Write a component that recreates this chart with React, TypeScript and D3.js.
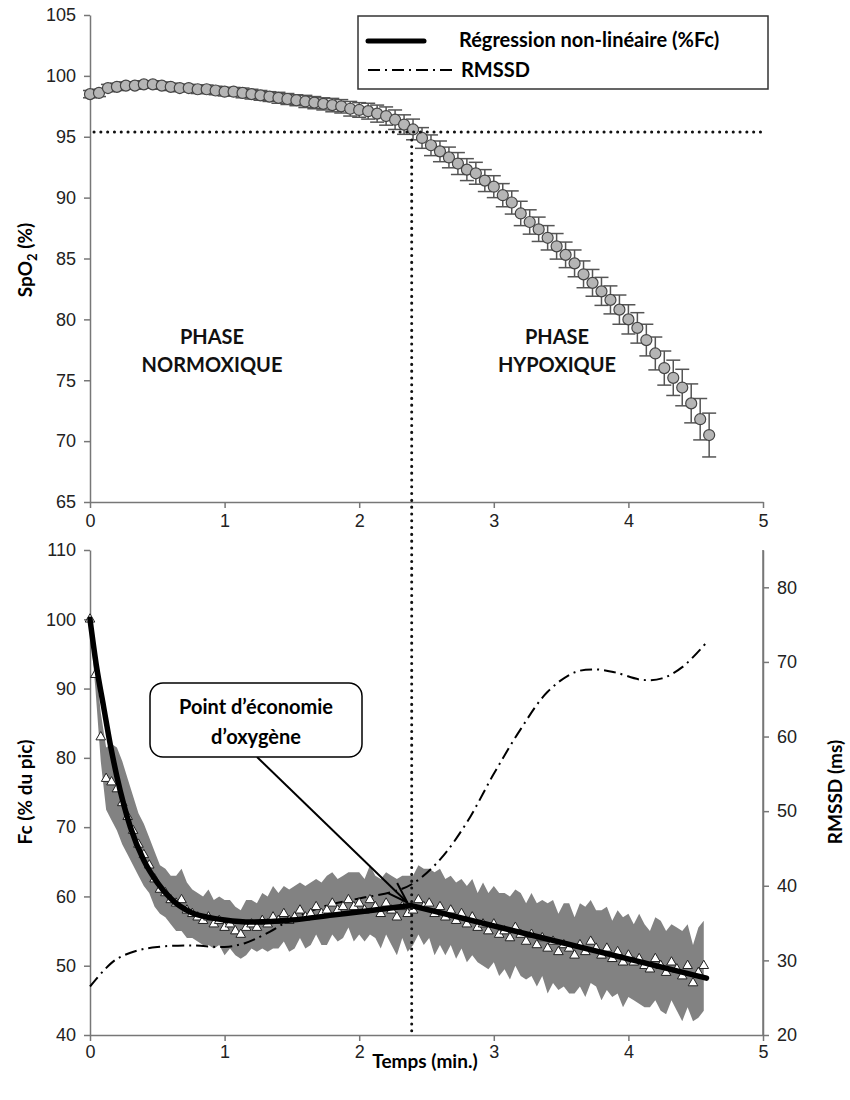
import React, { useEffect, useRef } from 'react';
import * as d3 from 'd3';

// SpO2 (%) mean and SD, one sample every 4 s
const spo2Step = 4 / 60;
const spo2Mean = [
  98.5, 98.6, 99.0, 99.1, 99.2, 99.2, 99.3, 99.3, 99.2, 99.1,
  99.0, 99.0, 98.9, 98.9, 98.8, 98.7, 98.7, 98.6, 98.5, 98.4,
  98.3, 98.2, 98.1, 98.0, 97.9, 97.8, 97.7, 97.6, 97.5, 97.3,
  97.2, 97.1, 96.9, 96.7, 96.4, 96.0, 95.6, 94.9, 94.3, 93.8,
  93.3, 92.8, 92.3, 92.0, 91.4, 90.9, 90.2, 89.6, 88.7, 88.0,
  87.4, 86.7, 86.0, 85.3, 84.6, 83.7, 83.0, 82.3, 81.6, 80.8,
  80.0, 79.3, 78.3, 77.2, 76.0, 75.2, 74.4, 73.1, 71.8, 70.5,
];
const spo2Sd = [
  0.3, 0.3, 0.3, 0.3, 0.3, 0.3, 0.3, 0.3, 0.3, 0.3,
  0.3, 0.3, 0.35, 0.35, 0.35, 0.35, 0.35, 0.4, 0.4, 0.4,
  0.4, 0.45, 0.45, 0.45, 0.5, 0.5, 0.5, 0.55, 0.55, 0.6,
  0.6, 0.65, 0.7, 0.75, 0.8, 0.8, 0.85, 0.85, 0.85, 0.85,
  0.85, 0.9, 0.9, 0.9, 0.9, 0.9, 0.95, 0.95, 1.0, 1.0,
  1.0, 1.0, 1.05, 1.05, 1.1, 1.1, 1.1, 1.15, 1.15, 1.2,
  1.2, 1.25, 1.3, 1.35, 1.4, 1.45, 1.5, 1.6, 1.7, 1.8,
];

// Fc (% du pic) mean and SD
const fcStep = 0.04;
const fcMean = [
  100, 92, 83, 77, 76.5, 75.5, 73.5, 71.5, 69.5, 67.5,
  66, 64.5, 62.5, 61, 60.5, 59.5, 59, 59.5, 58, 57.5,
  57, 56.5, 57, 56, 56.5, 55.5, 56, 55, 54.5, 55.5,
  56, 55.5, 56.5, 56, 57, 56.5, 57.5, 56.5, 57, 58,
  57, 57.5, 58.5, 57.5, 58, 59, 58, 58.5, 59.5, 58.5,
  59, 58, 59.5, 58.5, 57.5, 59, 58, 57, 58.5, 57.5,
  58, 59.5, 58.5, 59, 57.5, 58.5, 57, 58, 56.5, 57.5,
  56, 57, 55.5, 56, 55, 56, 54.5, 55, 54, 55.5,
  54.5, 53.5, 54.5, 53, 54, 52.5, 53.5, 52, 53, 52.5,
  51.5, 53, 52, 53.5, 52.5, 51.5, 52.5, 51, 52, 50.5,
  51.5, 50.5, 51, 50, 49.5, 51, 50, 49, 50.5, 49.5,
  48.5, 50, 47.5, 49, 50,
];
const fcSd = [
  1, 2, 3.5, 4.5, 5.5, 6, 6, 5.5, 5, 4.5,
  4.5, 4, 4, 3.5, 3.5, 3.5, 4, 4.5, 4, 3.5,
  3.5, 3.5, 4, 3.5, 3.5, 4, 3.5, 3.5, 3.5, 4,
  3.5, 3.5, 4, 4, 4.5, 4, 4, 4.5, 4.5, 4,
  4.5, 4.5, 4, 4.5, 5, 4.5, 4.5, 4.5, 4, 5,
  4.5, 4.5, 5, 4.5, 5, 4.5, 5, 5.5, 4.5, 5.5,
  5, 5, 5.5, 5, 6, 5.5, 5.5, 5, 5.5, 5,
  5.5, 5.5, 5, 6, 5.5, 5.5, 6, 5.5, 6, 5.5,
  6, 5.5, 6, 6, 5.5, 6.5, 6, 5.5, 6, 6.5,
  5.5, 6, 6.5, 6, 5.5, 6.5, 6, 5.5, 6, 6.5,
  6, 5.5, 6.5, 6, 5.5, 6, 6.5, 6, 5.5, 6,
  6.5, 6, 5.5, 6.5, 6.5,
];

// non-linear regression of %Fc, before and after the break point
const regTimeA = [0, 0.05, 0.1, 0.15, 0.2, 0.3, 0.4, 0.5, 0.6, 0.75, 0.9, 1.0, 1.2, 1.5, 1.8, 2.1, 2.38];
const regValueA = [100, 93, 87.5, 82, 77.3, 70, 65.2, 62, 59.7, 57.7, 56.9, 56.6, 56.3, 56.6, 57.3, 58.0, 58.7];
const regTimeB = [2.38, 4.58];
const regValueB = [58.7, 48.2];

// RMSSD (ms)
const rmssdTime = [0, 0.1, 0.2, 0.35, 0.5, 0.75, 1.0, 1.15, 1.3, 1.5, 1.75, 2.0, 2.25, 2.4, 2.6, 2.8, 3.0, 3.2, 3.4, 3.6, 3.75, 3.9, 4.1, 4.25, 4.4, 4.58];
const rmssdValue = [26.5, 28.6, 30.2, 31.3, 31.8, 32.0, 31.8, 32.3, 33.5, 35.5, 37.3, 38.3, 39.2, 40.3, 43.5, 48.5, 55.0, 61.0, 66.0, 68.6, 69.0, 68.6, 67.6, 67.8, 69.3, 72.6];

const timeTicks = [0, 1, 2, 3, 4, 5];
const spo2Ticks = [65, 70, 75, 80, 85, 90, 95, 100, 105];
const fcTicks = [40, 50, 60, 70, 80, 90, 100, 110];
const rmssdTicks = [20, 30, 40, 50, 60, 70, 80];

const breakTime = 2.39;
const breakSpo2 = 95.4;
const breakFc = 58.7;

const TITLE_FONT = 'Lato, "Open Sans", sans-serif';
const TICK_FONT = '"Liberation Sans", Arial, sans-serif';

export default function App() {
  const svgRef = useRef<SVGSVGElement>(null);

  useEffect(() => {
    if (!svgRef.current) return;
    const svg = d3.select(svgRef.current);
    svg.selectAll('*').remove();

    const x = d3.scaleLinear().domain([0, 5]).range([90, 763]);
    const ySp = d3.scaleLinear().domain([65, 105]).range([502, 15]);
    const yFc = d3.scaleLinear().domain([40, 110]).range([1035, 550]);
    const yRm = d3.scaleLinear().domain([20, 85]).range([1035, 550]);

    const styleAxis = (g: any) => {
      g.select('.domain').attr('stroke', '#777').attr('stroke-width', 1.5);
      g.selectAll('.tick line').attr('stroke', '#777').attr('stroke-width', 1.5);
      g.selectAll('.tick text')
        .attr('fill', '#222')
        .style('font-family', TICK_FONT)
        .style('font-size', '18px');
    };

    // ---------- top panel : SpO2 ----------
    svg.append('g')
      .attr('transform', 'translate(0,502)')
      .call(d3.axisBottom(x).tickValues(timeTicks).tickFormat(d3.format('d')).tickSize(6).tickSizeOuter(0).tickPadding(6))
      .call(styleAxis);
    svg.append('g')
      .attr('transform', 'translate(90,0)')
      .call(d3.axisLeft(ySp).tickValues(spo2Ticks).tickSize(6).tickSizeOuter(0).tickPadding(8))
      .call(styleAxis);

    const spo2 = spo2Mean.map((v, i) => ({ t: i * spo2Step, v, sd: spo2Sd[i] }));
    const bars = svg.append('g').attr('stroke', '#555').attr('stroke-width', 1.5);
    spo2.forEach(d => {
      const cx = x(d.t);
      bars.append('line').attr('x1', cx).attr('x2', cx).attr('y1', ySp(d.v + d.sd)).attr('y2', ySp(d.v - d.sd));
      bars.append('line').attr('x1', cx - 7).attr('x2', cx + 7).attr('y1', ySp(d.v + d.sd)).attr('y2', ySp(d.v + d.sd));
      bars.append('line').attr('x1', cx - 7).attr('x2', cx + 7).attr('y1', ySp(d.v - d.sd)).attr('y2', ySp(d.v - d.sd));
    });
    svg.append('g').selectAll('circle').data(spo2).enter().append('circle')
      .attr('cx', d => x(d.t))
      .attr('cy', d => ySp(d.v))
      .attr('r', 5.5)
      .attr('fill', '#b5b5b5')
      .attr('stroke', '#444')
      .attr('stroke-width', 1.2);

    const phase = (cx: number, word: string) => {
      const t = svg.append('text')
        .attr('text-anchor', 'middle')
        .style('font-family', TITLE_FONT)
        .style('font-weight', 'bold')
        .style('font-size', '20px')
        .attr('fill', '#111');
      t.append('tspan').attr('x', cx).attr('y', 344).text('PHASE');
      t.append('tspan').attr('x', cx).attr('y', 372).text(word);
    };
    phase(212, 'NORMOXIQUE');
    phase(557, 'HYPOXIQUE');

    // legend
    const lg = svg.append('g');
    lg.append('rect').attr('x', 358).attr('y', 16).attr('width', 410).attr('height', 73)
      .attr('fill', 'white').attr('stroke', '#333').attr('stroke-width', 1.5);
    lg.append('line').attr('x1', 368).attr('x2', 424).attr('y1', 41).attr('y2', 41)
      .attr('stroke', '#000').attr('stroke-width', 5).attr('stroke-linecap', 'round');
    lg.append('line').attr('x1', 368).attr('x2', 457).attr('y1', 70).attr('y2', 70)
      .attr('stroke', '#000').attr('stroke-width', 1.8).attr('stroke-dasharray', '12,5,2,5');
    lg.append('text').attr('x', 459).attr('y', 47).text('Régression non-linéaire (%Fc)')
      .style('font-family', TITLE_FONT).style('font-weight', 'bold').style('font-size', '20px');
    lg.append('text').attr('x', 461).attr('y', 77).text('RMSSD')
      .style('font-family', TITLE_FONT).style('font-weight', 'bold').style('font-size', '20px');

    // ---------- bottom panel : Fc + RMSSD ----------
    svg.append('g')
      .attr('transform', 'translate(0,1035)')
      .call(d3.axisBottom(x).tickValues(timeTicks).tickFormat(d3.format('d')).tickSize(6).tickSizeOuter(0).tickPadding(4))
      .call(styleAxis);
    svg.append('g')
      .attr('transform', 'translate(90,0)')
      .call(d3.axisLeft(yFc).tickValues(fcTicks).tickSize(6).tickSizeOuter(0).tickPadding(8))
      .call(styleAxis);
    svg.append('g')
      .attr('transform', 'translate(763,0)')
      .call(d3.axisRight(yRm).tickValues(rmssdTicks).tickSize(6).tickSizeOuter(0).tickPadding(8))
      .call(styleAxis);
    svg.append('line').attr('x1', 763).attr('x2', 763).attr('y1', yRm(85)).attr('y2', 1035)
      .attr('stroke', '#777').attr('stroke-width', 1.5);

    const fc = fcMean.map((v, i) => ({ t: i * fcStep, v, sd: fcSd[i] }));
    const band = d3.area<any>()
      .x(d => x(d.t))
      .y0(d => yFc(d.v - d.sd))
      .y1(d => yFc(d.v + d.sd));
    svg.append('path').attr('d', band(fc)).attr('fill', '#828282');

    const rm = rmssdTime.map((t, i) => ({ t, v: rmssdValue[i] }));
    svg.append('path')
      .attr('d', d3.line<any>().x(d => x(d.t)).y(d => yRm(d.v)).curve(d3.curveCatmullRom)(rm))
      .attr('fill', 'none').attr('stroke', '#000').attr('stroke-width', 2)
      .attr('stroke-dasharray', '12,5,2,5');

    const tri = d3.symbol().type(d3.symbolTriangle).size(40);
    svg.append('g').selectAll('path').data(fc).enter().append('path')
      .attr('d', tri)
      .attr('transform', d => `translate(${x(d.t)},${yFc(d.v)})`)
      .attr('fill', 'white').attr('stroke', '#222').attr('stroke-width', 1);

    const regA = regTimeA.map((t, i) => ({ t, v: regValueA[i] }));
    const regB = regTimeB.map((t, i) => ({ t, v: regValueB[i] }));
    svg.append('path')
      .attr('d', d3.line<any>().x(d => x(d.t)).y(d => yFc(d.v)).curve(d3.curveMonotoneX)(regA))
      .attr('fill', 'none').attr('stroke', '#000').attr('stroke-width', 5.5).attr('stroke-linecap', 'round');
    svg.append('path')
      .attr('d', d3.line<any>().x(d => x(d.t)).y(d => yFc(d.v))(regB))
      .attr('fill', 'none').attr('stroke', '#000').attr('stroke-width', 5.5).attr('stroke-linecap', 'round');

    // dotted reference lines
    const dotted = (x1: number, y1: number, x2: number, y2: number) =>
      svg.append('line').attr('x1', x1).attr('y1', y1).attr('x2', x2).attr('y2', y2)
        .attr('stroke', '#111').attr('stroke-width', 3)
        .attr('stroke-linecap', 'round').attr('stroke-dasharray', '0.1,6.7');
    dotted(x(0) + 4, ySp(breakSpo2), x(5), ySp(breakSpo2));
    dotted(x(breakTime), ySp(breakSpo2) + 8, x(breakTime), 1033);

    // callout
    const ax2 = x(2.38) - 3, ay2 = yFc(breakFc) - 3;
    const ax1 = 257, ay1 = 757;
    svg.append('line').attr('x1', ax1).attr('y1', ay1).attr('x2', ax2).attr('y2', ay2)
      .attr('stroke', '#000').attr('stroke-width', 2);
    const ang = Math.atan2(ay2 - ay1, ax2 - ax1);
    const hl = 22, ha = 0.32;
    svg.append('path')
      .attr('d', `M${ax2 - hl * Math.cos(ang - ha)},${ay2 - hl * Math.sin(ang - ha)}L${ax2},${ay2}L${ax2 - hl * Math.cos(ang + ha)},${ay2 - hl * Math.sin(ang + ha)}`)
      .attr('fill', 'none').attr('stroke', '#000').attr('stroke-width', 2);
    svg.append('rect').attr('x', 150).attr('y', 683).attr('width', 212).attr('height', 74).attr('rx', 13)
      .attr('fill', 'white').attr('stroke', '#000').attr('stroke-width', 1.5);
    const ct = svg.append('text').attr('text-anchor', 'middle')
      .style('font-family', TITLE_FONT).style('font-weight', 'bold').style('font-size', '20px');
    ct.append('tspan').attr('x', 256).attr('y', 714).text('Point d’économie');
    ct.append('tspan').attr('x', 256).attr('y', 744).text('d’oxygène');

    // axis titles
    const sp = svg.append('text').attr('transform', 'translate(32,260) rotate(-90)')
      .attr('text-anchor', 'middle')
      .style('font-family', TITLE_FONT).style('font-weight', 'bold').style('font-size', '19px');
    sp.append('tspan').text('SpO');
    sp.append('tspan').attr('dy', 5).style('font-size', '13px').text('2');
    sp.append('tspan').attr('dy', -5).text(' (%)');
    svg.append('text').attr('transform', 'translate(32,792) rotate(-90)')
      .attr('text-anchor', 'middle').text('Fc (% du pic)')
      .style('font-family', TITLE_FONT).style('font-weight', 'bold').style('font-size', '19px');
    svg.append('text').attr('transform', 'translate(842,792) rotate(-90)')
      .attr('text-anchor', 'middle').text('RMSSD (ms)')
      .style('font-family', TITLE_FONT).style('font-weight', 'bold').style('font-size', '19px');
    svg.append('text').attr('x', 425).attr('y', 1068)
      .attr('text-anchor', 'middle').text('Temps (min.)')
      .style('font-family', TITLE_FONT).style('font-weight', 'bold').style('font-size', '19px');
  }, []);

  return (
    <svg
      ref={svgRef}
      width={850}
      height={1100}
      style={{ position: 'absolute', left: 0, top: 0, background: 'white' }}
    />
  );
}
